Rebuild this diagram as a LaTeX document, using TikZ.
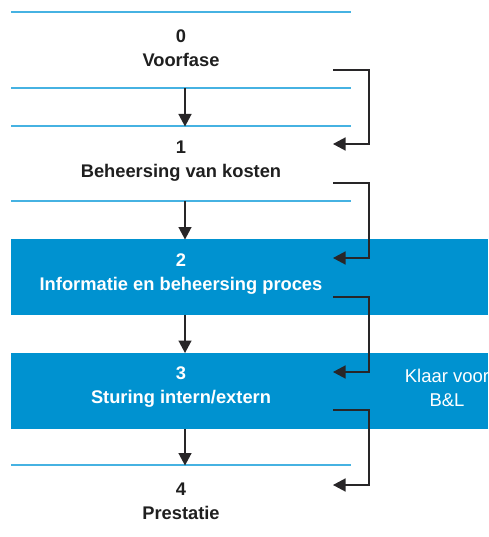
\documentclass[tikz,border=0pt]{standalone}
\usepackage{fontspec}
\setmainfont{Liberation Sans}
\usetikzlibrary{arrows.meta}
\definecolor{boxblue}{RGB}{0,146,208}
\definecolor{lineblue}{RGB}{70,178,226}
\definecolor{arrowgray}{RGB}{40,38,40}
\tikzset{
  phase/.style={align=center, font=\bfseries\fontsize{18.3}{24}\selectfont, text=black!88, inner sep=0pt},
  phasew/.style={phase, text=white},
  blueline/.style={draw=lineblue, line width=1.3pt},
  bluebox/.style={fill=boxblue},
  downarr/.style={draw=arrowgray, line width=1.4pt, -{Triangle[length=12.5pt,width=13pt]}},
  looparr/.style={draw=arrowgray, line width=1.4pt, -{Triangle[length=12.5pt,width=13pt]}},
  sidelabel/.style={align=center, font=\fontsize{18.5}{24}\selectfont, text=white, inner sep=0pt}
}
\begin{document}
\begin{tikzpicture}[x=1pt,y=-1pt]
\clip (0,0) rectangle (488,537);
\useasboundingbox (0,0) rectangle (488,537);
% blue boxes
\fill[bluebox] (11,239) rectangle (488,314.5);
\fill[bluebox] (11,352.5) rectangle (488,429);
% blue lines
\draw[blueline] (11,12) -- (351,12);
\draw[blueline] (11,88) -- (351,88);
\draw[blueline] (11,126) -- (351,126);
\draw[blueline] (11,201) -- (351,201);
\draw[blueline] (11,465) -- (351,465);
% phase texts
\node[phase]  (p0) at (181,48) {0\\Voorfase};
\node[phase]  (p1) at (181,161.5) {1\\Beheersing van kosten};
\node[phasew] (p2) at (181,274.5) {2\\Informatie en beheersing proces};
\node[phasew] (p3) at (181,387.5) {3\\Sturing intern/extern};
\node[phase]  (p4) at (181,501.5) {4\\Prestatie};
\node[sidelabel] (klaar) at (447,387.5) {Klaar voor\\B\&L};
% down arrows
\coordinate (a0) at (185,88);   \coordinate (b0) at (185,126.5);
\coordinate (a1) at (185,201);  \coordinate (b1) at (185,239.5);
\coordinate (a2) at (185,314.5);\coordinate (b2) at (185,353);
\coordinate (a3) at (185,429);  \coordinate (b3) at (185,465.5);
\draw[downarr] (a0) -- (b0);
\draw[downarr] (a1) -- (b1);
\draw[downarr] (a2) -- (b2);
\draw[downarr] (a3) -- (b3);
% loop arrows
\coordinate (s0) at (333,70);  \coordinate (t0) at (333,144);
\coordinate (s1) at (333,183); \coordinate (t1) at (333,258);
\coordinate (s2) at (333,297); \coordinate (t2) at (333,372);
\coordinate (s3) at (333,410); \coordinate (t3) at (333,485);
\draw[looparr] (s0) -- ++(36,0) |- (t0);
\draw[looparr] (s1) -- ++(36,0) |- (t1);
\draw[looparr] (s2) -- ++(36,0) |- (t2);
\draw[looparr] (s3) -- ++(36,0) |- (t3);
\end{tikzpicture}
\end{document}
